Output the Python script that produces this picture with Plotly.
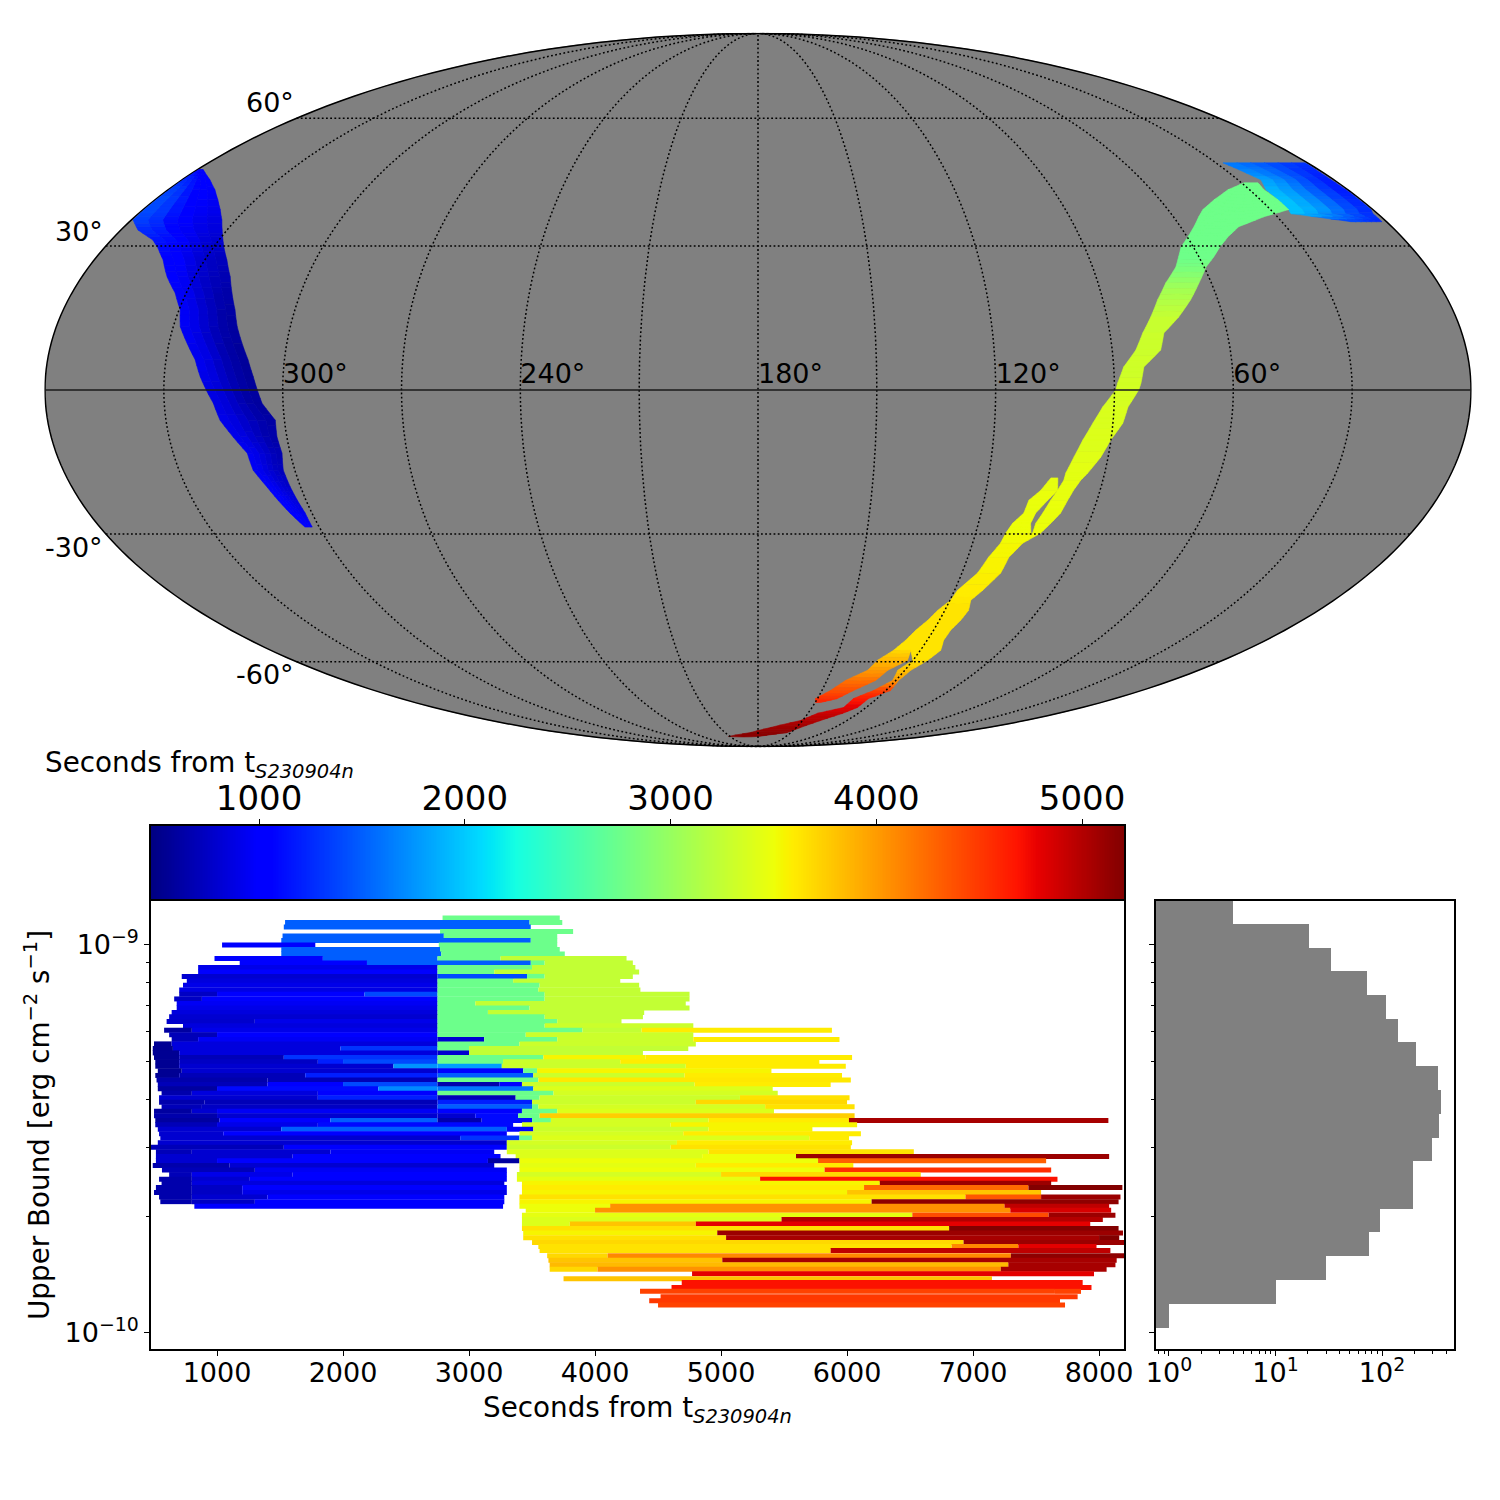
import numpy as np
import plotly.graph_objects as go
from plotly.colors import sample_colorscale

FONT = "DejaVu Sans"
SEC_MIN, SEC_MAX = 470, 5209
jet = [[0, "rgb(0,0,128)"], [0.11, "rgb(0,0,255)"], [0.125, "rgb(0,0,255)"], [0.34, "rgb(0,219,255)"],
       [0.35, "rgb(0,230,247)"], [0.375, "rgb(21,255,226)"], [0.64, "rgb(238,255,8)"], [0.65, "rgb(247,245,0)"],
       [0.66, "rgb(255,236,0)"], [0.89, "rgb(255,19,0)"], [0.91, "rgb(232,0,0)"], [1, "rgb(128,0,0)"]]

# ---- sky map strips: declination, right ascension of the two edges, seconds per cell
west_dec = [47.2, 44.8, 42.5, 40.2, 38.0, 35.7, 33.5, 31.3, 29.6, 27.0, 23.4, 20.0, 16.5, 13.0, 9.6, 6.2, 2.7, 0.0, -2.7, -6.2, -9.6, -13.0, -16.5, -20.0, -22.8, -25.5, -28.5]
west_ra0 = [359.6, 359.7, 359.6, 359.6, 359.6, 359.5, 355.2, 348.4, 345.2, 341.3, 337.3, 332.9, 329.7, 328.2, 325.4, 322.6, 320.9, 319.3, 317.6, 316.3, 313.7, 311.0, 310.8, 308.8, 307.4, 305.9, 303.9]
west_ra1 = [358.2, 351.3, 345.7, 341.2, 337.4, 334.0, 331.4, 328.9, 327.0, 324.0, 320.5, 318.0, 315.5, 313.6, 311.4, 309.2, 307.5, 306.4, 305.3, 302.3, 302.5, 302.1, 303.0, 302.7, 302.3, 301.8, 301.9]
west_sec = [[1050, 1000, 1000], [1250, 1100, 1000], [1350, 1100, 980], [1400, 1100, 950], [1400, 1080, 920], [1350, 1040, 880], [1250, 1000, 850], [1150, 950, 800], [1100, 900, 770], [1050, 850, 720], [1000, 800, 680], [960, 770, 640], [950, 750, 620], [950, 750, 600], [930, 720, 590], [920, 720, 580], [900, 720, 580], [880, 720, 590], [880, 720, 600], [900, 740, 620], [900, 760, 640], [930, 800, 680], [950, 830, 720], [980, 880, 780], [1000, 930, 850], [1000, 960, 900], [1020, 1000, 1000]]

cap_dec = [48.8, 47.2, 44.8, 42.5, 40.2, 38.0, 37.1, 35.3]
cap_ra0 = [27.7, 25.6, 22.8, 25.0, 24.8, 24.7, 25.2, 10.2]
cap_ra1 = [0.8, 0.9, 0.9, 0.6, 0.6, 0.6, 1.4, 1.3]
cap_sec = [[1620, 1500, 1400, 1300], [1650, 1550, 1400, 1250], [1800, 1600, 1400, 1200], [1900, 1700, 1450, 1200], [1950, 1750, 1500, 1250], [1950, 1800, 1550, 1280], [1950, 1750, 1550, 1300], [1300, 1300, 1250, 1250]]

arc_dec = [44.1, 42.5, 40.2, 38.0, 36.4, 34.2, 32.0, 29.8, 27.7, 25.5, 22.1, 18.6, 15.0, 11.7, 8.2, 4.7, 1.4, 0.0, -3.5, -6.8, -10.3, -13.8, -17.1, -18.6]
arc_ra0 = [29.2, 36.6, 43.9, 49.8, 52.7, 56.2, 59.8, 63.4, 65.5, 67.6, 72.1, 75.7, 78.7, 81.6, 84.0, 87.5, 89.2, 89.7, 92.9, 95.1, 97.2, 98.8, 100.1, 100.2]
arc_ra1 = [24.9, 25.6, 24.8, 24.7, 33.9, 43.5, 48.6, 52.7, 55.9, 59.5, 63.3, 67.1, 71.5, 76.2, 77.7, 82.4, 83.3, 83.9, 86.5, 87.5, 90.1, 91.9, 94.4, 95.8]
arc_sec = [[2750]] * 9 + [[2800], [3000], [3150], [3270], [3290], [3300], [3320], [3340], [3350], [3370], [3380], [3400], [3420], [3440], [3450]]

forkb_dec = [-18.6, -20.7, -22.8, -25.5, -27.7, -29.8]
forkb_ra0 = [100.2, 101.2, 102.3, 103.4, 104.4, 104.3]
forkb_ra1 = [95.8, 97.0, 97.8, 98.6, 100.3, 102.1]
forkb_sec = [[3450], [3460], [3470], [3480], [3490], [3500]]

forka_dec = [-18.1, -20.7, -22.8, -25.5, -27.7, -29.8]
forka_ra0 = [103.7, 105.6, 108.1, 108.5, 110.7, 111.7]
forka_ra1 = [101.9, 101.2, 103.1, 105.3, 105.8, 104.8]
forka_sec = [[3460], [3470], [3480], [3490], [3500], [3510]]

low_dec = [-29.8, -32.0, -35.1, -38.6, -42.5, -44.8, -47.2, -49.6, -52.0, -54.5, -57.0]
low_ra0 = [111.7, 112.2, 114.1, 115.4, 119.1, 119.8, 122.3, 123.9, 126.1, 127.7, 129.9]
low_ra1 = [102.1, 106.0, 108.3, 108.6, 111.4, 113.5, 112.4, 113.0, 114.2, 114.2, 112.5]
low_sec = [[3510], [3530], [3550], [3570], [3600], [3620], [3640], [3650], [3650], [3650], [3650]]

up_dec = [-57.0, -59.6, -62.3, -65.1, -68.0, -70.4, -71.6]
up_ra0 = [129.9, 133.7, 135.2, 141.9, 146.0, 151.0, 149.8]
up_ra1 = [123.6, 122.1, 127.0, 128.8, 135.2, 140.0, 147.2]
up_sec = [[3700], [3860], [4000], [4215], [4380], [4550], [4600]]

tail_dec = [-57.0, -59.6, -62.3, -65.1, -68.0, -70.4, -73.2, -75.1, -77.6, -80.2, -82.2, -83.9]
tail_ra0 = [123.6, 120.1, 122.9, 121.4, 125.8, 131.9, 132.5, 144.3, 151.4, 170.2, 186.8, 211.7]
tail_ra1 = [112.5, 114.3, 117.6, 118.8, 117.8, 124.3, 124.8, 129.2, 137.9, 146.7, 153.2, 179.5]
tail_sec = [[3650], [3650], [3800], [4000], [4450], [4650], [4800], [4900], [5000], [5100], [5150], [5150]]

strips = [(west_dec, west_ra0, west_ra1, west_sec), (cap_dec, cap_ra0, cap_ra1, cap_sec), (arc_dec, arc_ra0, arc_ra1, arc_sec),
          (forkb_dec, forkb_ra0, forkb_ra1, forkb_sec), (forka_dec, forka_ra0, forka_ra1, forka_sec), (low_dec, low_ra0, low_ra1, low_sec),
          (up_dec, up_ra0, up_ra1, up_sec), (tail_dec, tail_ra0, tail_ra1, tail_sec)]

meridian_ra = [30, 60, 90, 120, 150, 180, 210, 240, 270, 300, 330]
parallel_dec = [60, 30, -30, -60]
ra_labels = [300, 240, 180, 120, 60]

# ---- upper bound panel (units of 1e-10 erg cm^-2 s^-1), each row: (start s, end s, colour s)
upper_bound = [11.74, 11.43, 11.13, 10.84, 10.55, 10.27, 10.00, 9.74, 9.48, 9.23, 8.99, 8.75, 8.52, 8.30, 8.08, 7.87, 7.66, 7.46, 7.26, 7.07, 6.88, 6.70, 6.53, 6.35, 6.19, 6.03, 5.87, 5.71, 5.56, 5.41, 5.27, 5.13, 5.00, 4.87, 4.74, 4.61, 4.49, 4.37, 4.26, 4.15, 4.04, 3.93, 3.83, 3.73, 3.63, 3.53, 3.44, 3.35, 3.26, 3.18, 3.09, 3.01, 2.93, 2.85, 2.78, 2.70, 2.63, 2.56, 2.49, 2.43, 2.37, 2.30, 2.24, 2.18, 2.12, 2.07, 2.01, 1.96, 1.91, 1.86, 1.81, 1.76, 1.71, 1.67, 1.63, 1.58, 1.54, 1.50, 1.46, 1.42, 1.38, 1.35, 1.31, 1.28, 1.24, 1.21, 1.18]
row_segments = [
 [(2790, 3720, 2750)],
 [(1540, 3480, 1500), (3480, 3740, 2750)],
 [(1530, 3490, 1500)],
 [(2770, 3826, 2750)],
 [(1520, 2800, 1500), (2800, 3700, 2750)],
 [(1510, 3490, 1500), (3490, 3700, 2750)],
 [(1040, 1780, 1000), (2760, 3700, 2750)],
 [(1510, 2770, 1500), (2770, 3720, 2750)],
 [(1510, 2780, 1500), (2780, 3760, 2750)],
 [(980, 1840, 1000), (1840, 2750, 1500), (2750, 3250, 2750), (3250, 4250, 3250)],
 [(1180, 2190, 1000), (2190, 3490, 1500), (3490, 3600, 2750), (3600, 4300, 3250)],
 [(850, 2750, 900), (2750, 3500, 2750), (3500, 4320, 3250)],
 [(850, 2750, 1000), (2750, 3200, 2750), (3200, 4350, 3250)],
 [(720, 2750, 800), (2750, 3460, 1400), (3460, 3600, 2750), (3600, 4300, 3250)],
 [(760, 2750, 850), (2750, 3350, 2750), (3350, 4200, 3250)],
 [(730, 2750, 900), (2750, 3560, 2750), (3560, 4350, 3250)],
 [(700, 2750, 880), (2750, 3550, 2750), (3550, 4360, 3250)],
 [(700, 1000, 750), (1000, 2170, 1000), (2170, 2750, 1400), (2750, 3600, 2750), (3600, 4750, 3250)],
 [(660, 880, 750), (880, 2750, 1000), (2750, 3600, 2750), (3600, 4750, 3250)],
 [(680, 2750, 950), (2750, 3050, 2750), (3050, 4720, 3250)],
 [(680, 2750, 900), (2750, 3480, 2750), (3480, 4750, 3250)],
 [(640, 2750, 850), (2750, 3150, 2750), (3150, 4390, 3250)],
 [(620, 2750, 800), (2750, 3600, 2750), (3600, 4380, 3250)],
 [(600, 1300, 780), (1300, 2750, 900), (2750, 3700, 2750), (3700, 4210, 3250)],
 [(730, 2750, 850), (2750, 3600, 2750), (3600, 4780, 3300)],
 [(580, 800, 600), (800, 2750, 900), (2750, 3900, 2750), (3900, 4370, 3250), (4370, 5880, 3600)],
 [(620, 1000, 700), (1000, 2750, 1050), (2750, 3450, 2750), (3450, 4780, 3300)],
 [(640, 850, 700), (850, 2750, 950), (2750, 3120, 800), (3120, 3700, 2750), (3700, 4780, 3300), (4780, 5940, 3600)],
 [(500, 640, 550), (640, 2750, 850), (2750, 3400, 2750), (3400, 4800, 3300)],
 [(490, 650, 550), (650, 1980, 850), (1980, 2750, 1300), (2750, 3000, 2750), (3000, 4740, 3250)],
 [(490, 700, 550), (700, 2750, 850), (2750, 3000, 800), (3000, 4380, 3250)],
 [(500, 700, 550), (700, 1530, 700), (1530, 2750, 1300), (2750, 3590, 2750), (3590, 4400, 3550), (4400, 6040, 3600)],
 [(510, 700, 550), (700, 1800, 750), (1800, 2000, 1200), (2000, 2750, 1400), (2750, 3270, 2750), (3270, 4200, 3300), (4200, 5780, 3600)],
 [(510, 700, 550), (700, 2400, 800), (2400, 2750, 1750), (2750, 3260, 1800), (3260, 4720, 3300), (4720, 5990, 3600)],
 [(530, 720, 550), (720, 2750, 800), (2750, 3430, 1000), (3430, 3540, 2750), (3540, 5400, 3550)],
 [(510, 700, 550), (700, 1700, 700), (1700, 2750, 1200), (2750, 3510, 1500), (3510, 4710, 3300), (4710, 5960, 3600)],
 [(520, 1400, 650), (1400, 2750, 700), (2750, 3550, 2750), (3550, 6030, 3620)],
 [(530, 1400, 700), (1400, 2000, 1000), (2000, 2750, 1400), (2750, 3240, 650), (3240, 3420, 1000), (3420, 4790, 3300), (4790, 5870, 3600)],
 [(530, 1000, 600), (1000, 2280, 1100), (2280, 2750, 1700), (2750, 3510, 1600), (3510, 5410, 3400)],
 [(560, 800, 650), (800, 1800, 850), (1800, 2750, 1000), (2750, 3670, 2750), (3670, 5450, 3350)],
 [(540, 1800, 800), (1800, 2750, 1200), (2750, 3370, 700), (3370, 3560, 2750), (3560, 5150, 3300), (5150, 6020, 3650)],
 [(540, 900, 650), (900, 2750, 700), (2750, 3500, 1200), (3500, 4800, 3300), (4800, 6000, 3700)],
 [(560, 880, 700), (880, 2750, 750), (2750, 3500, 1500), (3500, 3550, 2750), (3550, 5350, 3350), (5350, 6060, 3650)],
 [(500, 800, 600), (800, 1000, 800), (1000, 2750, 950), (2750, 3420, 1000), (3420, 3700, 2750), (3700, 5420, 3400)],
 [(500, 1000, 650), (1000, 2750, 800), (2750, 3050, 800), (3050, 3390, 1100), (3390, 3560, 2750), (3560, 6060, 3750)],
 [(510, 1020, 600), (1020, 1900, 1000), (1900, 2750, 1500), (2750, 3100, 650), (3100, 3500, 1100), (3500, 3650, 2750), (3650, 4900, 3350), (4900, 6015, 3600), (6015, 8074, 5050)],
 [(510, 1000, 700), (1000, 1800, 900), (1800, 3350, 1100), (3420, 4600, 3350), (4600, 6080, 3550)],
 [(530, 1510, 800), (1510, 3300, 1500), (3300, 3510, 1000), (3510, 4900, 3300), (4900, 5725, 3550)],
 [(540, 1050, 800), (1050, 3300, 1050), (3400, 4700, 3350), (4700, 6110, 3600)],
 [(550, 2930, 800), (2930, 3400, 1300), (3400, 3500, 2750), (3500, 5700, 3400), (5700, 6016, 3600)],
 [(530, 3300, 800), (3300, 4650, 3350), (4650, 6040, 3600)],
 [(470, 1530, 700), (1530, 3300, 1000), (3300, 4600, 3300), (4600, 6030, 3650)],
 [(515, 800, 700), (800, 1900, 800), (1900, 3200, 950), (3300, 4900, 3400), (4900, 6530, 3650)],
 [(515, 1600, 800), (1600, 3250, 1050), (3370, 4850, 3400), (4850, 5595, 3500), (5595, 8080, 5100)],
 [(515, 1000, 800), (1000, 3150, 1000), (3150, 3400, 600), (3400, 5770, 3500), (5770, 7580, 4300)],
 [(490, 1100, 650), (1100, 3200, 800), (3400, 4800, 3450), (4800, 6050, 3600)],
 [(563, 1300, 700), (1300, 3300, 950), (3400, 5822, 3500), (5822, 7620, 4550)],
 [(620, 800, 700), (800, 1600, 900), (1600, 3300, 1050), (3380, 5000, 3350), (5000, 6585, 3700)],
 [(540, 800, 650), (800, 1260, 800), (1260, 3300, 1000), (3380, 5310, 3450), (5310, 7670, 4700)],
 [(560, 800, 650), (800, 3280, 850), (3420, 6260, 3550), (6260, 7620, 5100)],
 [(515, 800, 650), (800, 1200, 750), (1200, 3300, 1000), (3420, 6135, 3600), (6135, 7440, 4250), (7440, 8185, 5200)],
 [(500, 800, 650), (800, 1200, 750), (1200, 3300, 900), (3420, 6000, 3550), (6000, 7540, 3800)],
 [(540, 800, 650), (800, 1400, 800), (1400, 3280, 1000), (3400, 6940, 3650), (6940, 7540, 4350), (7540, 8170, 5100)],
 [(550, 800, 650), (800, 1300, 750), (1300, 3280, 1050), (3400, 6195, 3550), (6195, 8155, 5150)],
 [(820, 3270, 1050), (3400, 4120, 3500), (4120, 7250, 4050), (7250, 8080, 4950)],
 [(3450, 4000, 3500), (4000, 7296, 4050), (7296, 8096, 4850)],
 [(3420, 6518, 3450), (6518, 7600, 4400), (7600, 8130, 5100)],
 [(3420, 5480, 3400), (5480, 8030, 5000)],
 [(3420, 3800, 3400), (3800, 4800, 3800), (4800, 7930, 4800)],
 [(3420, 6810, 3650), (6810, 8155, 5200)],
 [(3430, 4970, 3550), (4970, 8190, 5100)],
 [(3430, 5040, 3650), (5040, 8000, 5050), (8000, 8160, 5200)],
 [(3500, 6925, 3700), (6925, 8200, 5100)],
 [(3550, 6830, 3650), (6830, 7360, 4100), (7360, 7980, 4800)],
 [(3560, 5870, 3650), (5870, 8090, 4950)],
 [(3620, 4100, 3700), (4100, 7300, 4100), (7300, 8206, 5150)],
 [(3630, 5010, 3800), (5010, 8140, 5050)],
 [(3640, 7280, 3850), (7280, 8130, 5050)],
 [(3640, 4020, 3700), (4020, 7220, 4050), (7220, 8060, 5050)],
 [(4770, 7960, 4800)],
 [(3750, 7150, 3800)],
 [(4688, 7870, 4700)],
 [(4607, 7940, 4700)],
 [(4357, 7650, 4450), (7650, 7857, 4450)],
 [(4520, 7830, 4500)],
 [(4430, 7690, 4500)],
 [(4500, 7730, 4450)],
]

# ---- histogram of the upper bounds (bin edges in units of 1e-10)
hist_edges = [13.06, 11.34, 9.85, 8.56, 7.43, 6.46, 5.61, 4.87, 4.23, 3.67, 3.19, 2.77, 2.41, 2.09, 1.82, 1.58, 1.37, 1.19, 1.03]
hist_counts = [4, 20.6, 33, 72, 109, 141, 208, 336, 358, 343, 295, 195, 195, 96, 75, 30, 10, 1]
colorbar_ticks = [1000, 2000, 3000, 4000, 5000]
x_ticks = [1000, 2000, 3000, 4000, 5000, 6000, 7000, 8000]


def color(sec):
    f = min(1, max(0, (sec - SEC_MIN) / (SEC_MAX - SEC_MIN)))
    return sample_colorscale(jet, [f])[0]


def lon(ra):
    return 360 - ra


fig = go.Figure()

# --- map regions: each band between two rows is split finely so the colour varies smoothly
groups = {}
SUB_V = 3
for dec, ra0, ra1, secs in strips:
    for i in range(len(dec) - 1):
        n = len(secs[i])
        cols = 6 if n > 1 else 1
        centres = [(c + 0.5) / n for c in range(n)]
        for v in range(SUB_V):
            t0, t1 = v / SUB_V, (v + 1) / SUB_V
            d0 = dec[i] + t0 * (dec[i + 1] - dec[i])
            d1 = dec[i] + t1 * (dec[i + 1] - dec[i])
            l0 = lon(ra0[i]) + t0 * (ra0[i] - ra0[i + 1])
            l1 = lon(ra0[i]) + t1 * (ra0[i] - ra0[i + 1])
            w0 = (ra0[i] - ra1[i]) + t0 * ((ra0[i + 1] - ra1[i + 1]) - (ra0[i] - ra1[i]))
            w1 = (ra0[i] - ra1[i]) + t1 * ((ra0[i + 1] - ra1[i + 1]) - (ra0[i] - ra1[i]))
            for c in range(cols):
                a, b = c / cols, (c + 1) / cols
                m = (a + b) / 2
                tm = (t0 + t1) / 2
                upper = np.interp(m, centres, secs[i])
                lower = np.interp(m, [(k + 0.5) / len(secs[i + 1]) for k in range(len(secs[i + 1]))], secs[i + 1])
                sec = upper + tm * (lower - upper)
                key = int(round(sec / 20) * 20)
                g = groups.setdefault(key, ([], []))
                g[0].extend([l0 + a * w0, l0 + b * w0, l1 + b * w1, l1 + a * w1, l0 + a * w0, None])
                g[1].extend([d0, d0, d1, d1, d0, None])
for key in sorted(groups):
    col = color(key)
    fig.add_trace(go.Scattergeo(lon=groups[key][0], lat=groups[key][1], mode="lines", fill="toself", fillcolor=col,
                                line=dict(color=col, width=0.6), hoverinfo="skip", showlegend=False))

# --- graticule on top of the regions
grid = dict(color="#000000", width=1.5, dash="1.8px,2.4px")
for ra in meridian_ra:
    fig.add_trace(go.Scattergeo(lon=[lon(ra)] * 3, lat=[-89.99, 0, 89.99], mode="lines", line=grid, hoverinfo="skip", showlegend=False))
grid_lons = np.arange(0, 361, 3.0)
for d in parallel_dec:
    fig.add_trace(go.Scattergeo(lon=grid_lons, lat=[d] * len(grid_lons), mode="lines", line=grid, hoverinfo="skip", showlegend=False))
fig.add_trace(go.Scattergeo(lon=[0.01, 90, 180, 270, 359.99], lat=[0] * 5, mode="lines", line=dict(color="#1a1a1a", width=1.6), hoverinfo="skip", showlegend=False))

fig.add_trace(go.Scattergeo(lon=[lon(r) for r in ra_labels], lat=[0] * len(ra_labels), mode="text",
                            text=[f"{r}°" for r in ra_labels], textposition="top right",
                            textfont=dict(family=FONT, size=27, color="black"), hoverinfo="skip", showlegend=False))

# --- colour bar drawn on its own axis
cb_x = np.arange(SEC_MIN, SEC_MAX + 1, 8)
fig.add_trace(go.Heatmap(x=cb_x, y=[0, 1], z=[cb_x, cb_x], zmin=SEC_MIN, zmax=SEC_MAX, colorscale=jet, showscale=False,
                         xaxis="x2", yaxis="y2", hoverinfo="skip"))

# --- upper bound segments
for y, segs in zip(upper_bound, row_segments):
    for s, e, c in segs:
        fig.add_trace(go.Scatter(x=[s, e], y=[y * 1e-10, y * 1e-10], mode="lines", line=dict(color=color(c), width=5),
                                 xaxis="x", yaxis="y", hoverinfo="skip", showlegend=False))

# --- histogram
hist_y = [(hist_edges[k] + hist_edges[k + 1]) / 2 * 1e-10 for k in range(len(hist_counts))]
hist_w = [(hist_edges[k] - hist_edges[k + 1]) * 1e-10 for k in range(len(hist_counts))]
fig.add_trace(go.Bar(x=hist_counts, y=hist_y, orientation="h", width=hist_w,
                     marker=dict(color="#808080", line=dict(width=0)), xaxis="x3", yaxis="y3", hoverinfo="skip", showlegend=False))

W = H = 1500.0
ax = dict(showgrid=False, zeroline=False, showline=True, mirror=True, linecolor="black", linewidth=1.5, ticks="outside", automargin=False,
          tickcolor="black", tickwidth=1, ticklen=5, tickfont=dict(family=FONT, size=27, color="black"))
ydec = [1e-10, 1e-9]
yminor = [k * 1e-10 for k in range(2, 10)]
ylog = [-10.044, -8.884]

xhist_minor = [0.8, 0.9] + [k * m for m in (1, 10) for k in range(2, 10)] + [200, 300, 400]
fig.update_layout(
    width=1500, height=1500, margin=dict(l=0, r=0, t=0, b=0), paper_bgcolor="white", plot_bgcolor="white",
    font=dict(family=FONT, color="black"), showlegend=False, bargap=0,
    geo=dict(domain=dict(x=[45 / W, 1471 / W], y=[1 - 747 / H, 1 - 33 / H]), projection=dict(type="mollweide", rotation=dict(lon=180)),
             center=dict(lon=180, lat=0), bgcolor="rgba(0,0,0,0)", showland=False, showocean=False, showlakes=False, showcoastlines=False,
             showcountries=False, showrivers=False, showframe=True, framecolor="black", framewidth=1.5,
             lonaxis=dict(showgrid=False), lataxis=dict(showgrid=False)),
    xaxis=dict(ax, domain=[151 / W, 1124 / W], range=[476, 8198], tickvals=x_ticks, anchor="y", ticklabelstandoff=-6),
    yaxis=dict(ax, domain=[1 - 1349 / H, 1 - 901 / H], type="log", range=[-10.0414, -8.8866], tickvals=ydec,
               ticktext=["10<sup>−10</sup>", "10<sup>−9</sup>"], anchor="x",
               minor=dict(tickvals=yminor, ticks="outside", ticklen=3, tickcolor="black", tickwidth=1)),
    xaxis2=dict(ax, domain=[151 / W, 1124 / W], range=[475, 5204], tickvals=colorbar_ticks, side="top", anchor="y2", ticklabelstandoff=-4,
                tickfont=dict(family=FONT, size=34, color="black")),
    yaxis2=dict(ax, domain=[1 - 899 / H, 1 - 826 / H], range=[0, 1], showticklabels=False, ticks="", anchor="x2"),
    xaxis3=dict(ax, domain=[1156 / W, 1454 / W], type="log", range=[-0.122, 2.676], tickvals=[1, 10, 100],
                ticktext=["10<sup>0</sup>", "10<sup>1</sup>", "10<sup>2</sup>"], anchor="y3", ticklabelstandoff=-6,
                minor=dict(tickvals=xhist_minor, ticks="outside", ticklen=3, tickcolor="black", tickwidth=1)),
    yaxis3=dict(ax, domain=[1 - 1349 / H, 1 - 901 / H], type="log", range=[-10.0414, -8.8866], tickvals=ydec, showticklabels=False, anchor="x3",
                minor=dict(tickvals=yminor, ticks="outside", ticklen=3, tickcolor="black", tickwidth=1)),
    shapes=[dict(type="circle", xref="paper", yref="paper", x0=45 / W, x1=1471 / W, y0=1 - 747 / H, y1=1 - 33 / H,
                 fillcolor="#808080", line=dict(width=0), layer="below")],
    annotations=[
        dict(x=43 / W, y=1 - 764 / H, xref="paper", yref="paper", xanchor="left", yanchor="middle", showarrow=False,
             text="Seconds from t<sub><i>S230904n</i></sub>", font=dict(family=FONT, size=27.8, color="black")),
        dict(x=637 / W, y=1 - 1409 / H, xref="paper", yref="paper", xanchor="center", yanchor="middle", showarrow=False,
             text="Seconds from t<sub><i>S230904n</i></sub>", font=dict(family=FONT, size=27.8, color="black")),
        dict(x=37 / W, y=1 - 1125 / H, xref="paper", yref="paper", xanchor="center", yanchor="middle", showarrow=False, textangle=-90,
             text="Upper Bound [erg cm<sup>−2</sup> s<sup>−1</sup>]", font=dict(family=FONT, size=27.8, color="black")),
        dict(x=296 / W, y=1 - 103 / H, xref="paper", yref="paper", xanchor="right", yanchor="middle", showarrow=False, text="60°", font=dict(family=FONT, size=27, color="black")),
        dict(x=105 / W, y=1 - 231 / H, xref="paper", yref="paper", xanchor="right", yanchor="middle", showarrow=False, text="30°", font=dict(family=FONT, size=27, color="black")),
        dict(x=105 / W, y=1 - 547 / H, xref="paper", yref="paper", xanchor="right", yanchor="middle", showarrow=False, text="-30°", font=dict(family=FONT, size=27, color="black")),
        dict(x=296 / W, y=1 - 675 / H, xref="paper", yref="paper", xanchor="right", yanchor="middle", showarrow=False, text="-60°", font=dict(family=FONT, size=27, color="black")),
    ],
)
fig.write_html("out.html", post_script="document.body.style.margin='0';", config={"displayModeBar": False})
